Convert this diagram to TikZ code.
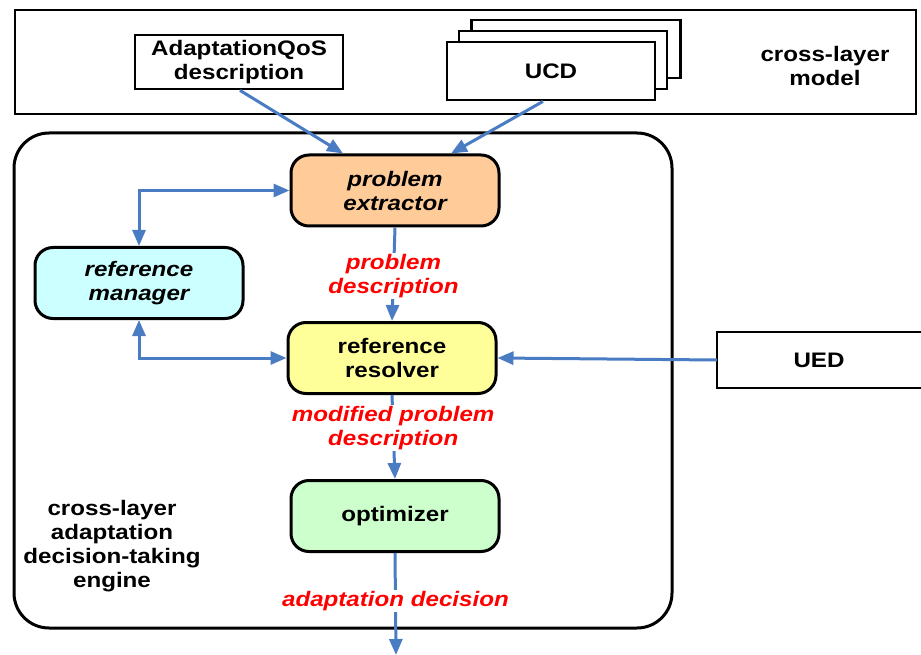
\documentclass[tikz,border=0pt]{standalone}
\usepackage{fontspec}
\setmainfont[FakeStretch=1.15]{Liberation Sans}
\usetikzlibrary{arrows.meta,calc}
\definecolor{arrowblue}{HTML}{4A7CC4}
\definecolor{orangefill}{HTML}{FFCC99}
\definecolor{cyanfill}{HTML}{CCFFFF}
\definecolor{yellowfill}{HTML}{FFFF99}
\definecolor{greenfill}{HTML}{CCFFCC}
\begin{document}
\begin{tikzpicture}[x=1pt,y=-1pt,
  txt/.style={font=\fontsize{21}{24}\selectfont\bfseries, align=center},
  proc/.style={txt, draw=black, line width=3pt, rounded corners=18pt, minimum width=208pt, minimum height=71pt, inner sep=0pt},
  plain/.style={txt, draw=black, line width=2.8pt, fill=white, inner sep=0pt},
  lbl/.style={txt, text=red, font=\fontsize{21}{24}\selectfont\bfseries\itshape, fill=white, inner sep=1pt},
  tip/.style={},
  arr/.style={draw=arrowblue, line width=3pt, -{Triangle[length=16pt,width=13pt]}},
  arrtwo/.style={draw=arrowblue, line width=3pt, {Triangle[length=16pt,width=13pt]}-{Triangle[length=16pt,width=13pt]}}
]
\useasboundingbox (0,0) rectangle (921,655);
% cross-layer model container
\node[draw=black, line width=1.8pt, minimum width=901pt, minimum height=104pt, inner sep=0pt, anchor=north west] (model) at (14,9) {};
\node[txt] (modeltxt) at (825,66) {cross-layer\\model};
% engine container
\node[draw=black, line width=3pt, rounded corners=35pt, minimum width=658pt, minimum height=495pt, inner sep=0pt] (engine) at (343,380.5) {};
\node[txt] (enginetxt) at (112,546) {cross-layer\\adaptation\\decision-taking\\engine};
% AdaptationQoS
\node[plain, minimum width=208pt, minimum height=54pt] (aqos) at (239,62) {AdaptationQoS\\description};
% UCD stack
\node[plain, minimum width=209pt, minimum height=58pt] (ucdc) at (576,49) {};
\node[plain, minimum width=208pt, minimum height=58pt] (ucdb) at (563,60) {};
\node[plain, minimum width=208pt, minimum height=58pt] (ucd) at (551,71) {UCD};
% UED
\coordinate (uedtr) at (921,332);
\coordinate (uedbr) at (921,388);
\draw[line width=2.8pt] (uedtr) -| (717,388) -- (uedbr);
\node[txt] (ued) at (819,360) {UED};
\coordinate (uedw) at (717,360);
% processes
\node[proc, fill=orangefill] (pe) at (395,190.5) {\itshape problem\\\itshape extractor};
\node[proc, fill=cyanfill] (rm) at (139,283) {\itshape reference\\\itshape manager};
\node[proc, fill=yellowfill] (rr) at (392,358) {reference\\resolver};
\node[proc, fill=greenfill] (opt) at (395,516) {optimizer};
\coordinate (out) at (396,655);
% connectors
\draw[arr] ($(aqos.south)+(1,0)$) -- ($(pe.north)+(-52,0)$);
\draw[arr] ($(ucd.south)+(-8,0)$) -- ($(pe.north)+(56,0)$);
\draw[arrtwo] (pe.west) -| (rm.north);
\draw[arrtwo] (rm.south) |- (rr.west);
\draw[arr] (uedw) -- (rr.east);
\draw[arr] (pe.south) -- (rr.north) node[lbl, pos=0.52] (l1) {problem\\description};
\draw[arr] (rr.south) -- (opt.north) node[lbl, pos=0.39] (l2) {modified problem\\description};
\draw[arr] (opt.south) -- (out) node[lbl, pos=0.47] (l3) {adaptation decision};
\end{tikzpicture}
\end{document}
